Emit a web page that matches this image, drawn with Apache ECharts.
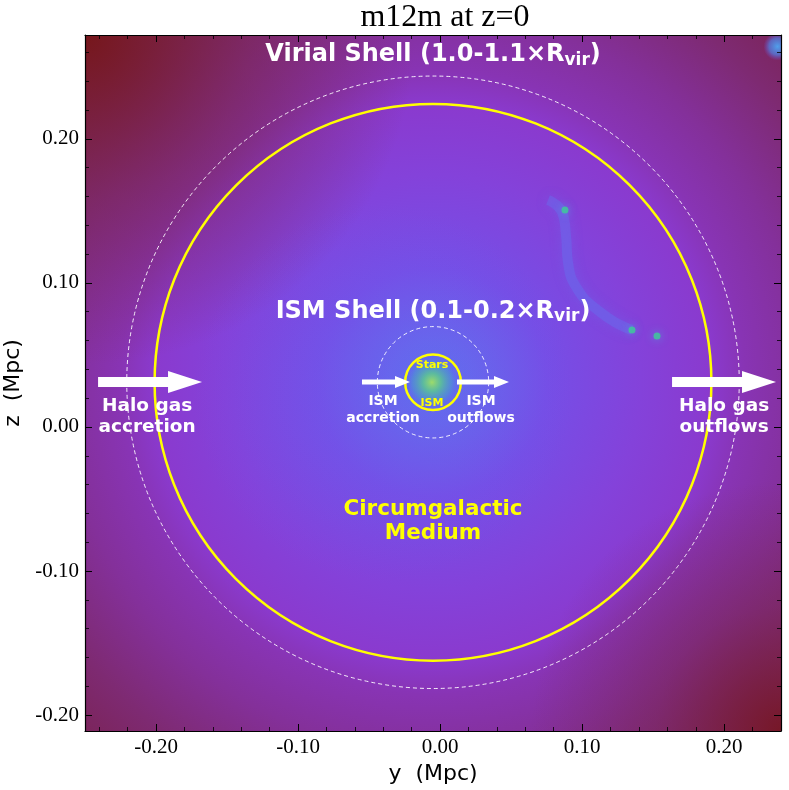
<!DOCTYPE html>
<html>
<head>
<meta charset="utf-8">
<script src="https://cdn.jsdelivr.net/npm/echarts@6/dist/echarts.min.js"></script>
<style>
  html, body { margin: 0; padding: 0; background: #fff; }
  #chart { width: 789px; height: 790px; }
</style>
</head>
<body>
<div id="chart"></div>
<script>
// axis extents and tick labels (Mpc)
var xRange = [-0.25, 0.24];
var yRange = [-0.211, 0.272];
var xTicks = [-0.2, -0.1, 0, 0.1, 0.2];
var yTicks = [-0.2, -0.1, 0, 0.1, 0.2];

// halo centre and virial radius
var haloCenter = [-0.005, 0.031];
var rvir = 0.196;
var solidShells = [1.0, 0.1];   // x Rvir, yellow
var dashedShells = [1.1, 0.2];  // x Rvir, white dashed

// flow arrows: [xStart, xEnd, y]
var haloArrows = [[-0.2408, -0.1676, 0.0312], [0.1633, 0.2365, 0.0312]];
var ismArrows = [[-0.055, -0.0212, 0.0312], [0.0119, 0.0485, 0.0312]];

// bright clumps and a filament in the gas map
var clumps = [[0.0879, 0.1506], [0.1351, 0.0673], [0.1527, 0.0631]];
var filament = [[0.076, 0.1575], [0.0858, 0.1492], [0.0886, 0.1332], [0.09, 0.1145],
  [0.0971, 0.095], [0.1126, 0.0798], [0.1267, 0.0708], [0.1351, 0.0673]];
var cornerBlob = [[0.2375, 0.264]];
var galaxy = [[-0.0057, 0.031]];

// annotations
var shellText = ['Virial Shell (1.0-1.1×R{sub|vir})', 'ISM Shell (0.1-0.2×R{sub|vir})'];
var shellPos = [[-0.005, 0.258], [-0.005, 0.0798]];
var haloText = ['Halo gas\naccretion', 'Halo gas\noutflows'];
var haloPos = [[-0.2063, 0.007], [0.1999, 0.007]];
var ismText = ['ISM\naccretion', 'ISM\noutflows'];
var ismPos = [[-0.0402, 0.0118], [0.0288, 0.0118]];
var galText = ['Stars', 'ISM'];
var galPos = [[-0.0057, 0.043], [-0.0057, 0.0166]];
var cgmText = ['Circumgalactic\nMedium'];
var cgmPos = [[-0.005, -0.0657]];

function minorTicks(lo, hi) {
  var out = [];
  for (var i = Math.ceil(lo / 0.02); i * 0.02 <= hi; i++) out.push(+(i * 0.02).toFixed(2));
  return out;
}

var chart = echarts.init(document.getElementById('chart'));

var serif = 'Liberation Serif';
var sans = 'DejaVu Sans';

function axis(pos, ticks, minor, range, withLabels, name) {
  var isX = pos === 'bottom' || pos === 'top';
  var major = {
    type: 'value', position: pos, min: range[0], max: range[1], z: 20,
    axisLine: { show: true, onZero: false, lineStyle: { color: '#000', width: 1.2 } },
    axisTick: { show: true, inside: true, length: 7, customValues: ticks, lineStyle: { color: '#000', width: 1 } },
    axisLabel: {
      show: withLabels, customValues: ticks, margin: 6,
      formatter: function (v) { return v.toFixed(2); },
      fontFamily: serif, fontSize: 21, color: '#000'
    },
    splitLine: { show: false }
  };
  if (name) {
    major.name = name;
    major.nameLocation = 'middle';
    major.nameGap = isX ? 30 : 52;
    major.nameTextStyle = { fontFamily: sans, fontSize: 22, color: '#000' };
  }
  var mn = {
    type: 'value', position: pos, min: range[0], max: range[1], z: 20,
    axisLine: { show: false, onZero: false },
    axisTick: { show: true, inside: true, length: 4, customValues: minor, lineStyle: { color: '#000', width: 0.8 } },
    axisLabel: { show: false },
    splitLine: { show: false }
  };
  return [major, mn];
}

var xMinor = minorTicks(xRange[0], xRange[1]);
var yMinor = minorTicks(yRange[0], yRange[1]);

var xAxes = axis('bottom', xTicks, xMinor, xRange, true, 'y  (Mpc)')
  .concat(axis('top', xTicks, xMinor, xRange, false));
var yAxes = axis('left', yTicks, yMinor, yRange, true, 'z  (Mpc)')
  .concat(axis('right', yTicks, yMinor, yRange, false));

function textSeries(texts, positions, style) {
  return {
    type: 'custom', xAxisIndex: 0, yAxisIndex: 0, clip: true, silent: true, z: 10,
    data: positions,
    renderItem: function (params, api) {
      var p = api.coord([api.value(0), api.value(1)]);
      return {
        type: 'text', x: p[0], y: p[1],
        style: Object.assign({
          text: texts[params.dataIndex], align: 'center', verticalAlign: 'middle',
          fontFamily: sans, fontWeight: 'bold'
        }, style)
      };
    }
  };
}

function circleSeries(mults, style) {
  return {
    type: 'custom', xAxisIndex: 0, yAxisIndex: 0, clip: true, silent: true, z: 5,
    data: mults.map(function (m) { return [haloCenter[0], haloCenter[1], m * rvir]; }),
    renderItem: function (params, api) {
      var c = api.coord([api.value(0), api.value(1)]);
      var r = api.size([api.value(2), 0])[0];
      return { type: 'circle', shape: { cx: c[0], cy: c[1], r: r }, style: Object.assign({ fill: null }, style) };
    }
  };
}

function arrowSeries(data, h, H, L) {
  return {
    type: 'custom', xAxisIndex: 0, yAxisIndex: 0, clip: true, silent: true, z: 8,
    data: data,
    renderItem: function (params, api) {
      var a = api.coord([api.value(0), api.value(2)]);
      var b = api.coord([api.value(1), api.value(2)]);
      var y = a[1], s = b[0] - L;
      return {
        type: 'polygon',
        shape: { points: [[a[0], y - h], [s, y - h], [s, y - H], [b[0], y], [s, y + H], [s, y + h], [a[0], y + h]] },
        style: { fill: '#fff' }
      };
    }
  };
}

function blobSeries(data, r, stops, z) {
  return {
    type: 'custom', xAxisIndex: 0, yAxisIndex: 0, clip: true, silent: true, z: z,
    data: data,
    renderItem: function (params, api) {
      var c = api.coord([api.value(0), api.value(1)]);
      return {
        type: 'circle', shape: { cx: c[0], cy: c[1], r: r },
        style: { fill: { type: 'radial', x: 0.5, y: 0.5, r: 0.5, colorStops: stops } }
      };
    }
  };
}

var option = {
  backgroundColor: '#fff',
  animation: false,
  title: {
    text: 'm12m at z=0', left: 440, top: -3, textAlign: 'center',
    textStyle: { fontFamily: serif, fontSize: 32, fontWeight: 'normal', color: '#000' }
  },
  grid: { left: 85, top: 35, width: 696, height: 696, show: false, containLabel: false, outerBoundsMode: 'none' },
  xAxis: xAxes,
  yAxis: yAxes,
  series: [
    // gas map background
    {
      type: 'custom', xAxisIndex: 0, yAxisIndex: 0, clip: true, silent: true, z: 1,
      data: [haloCenter],
      renderItem: function (params, api) {
        var cs = params.coordSys;
        var c = api.coord([api.value(0), api.value(1)]);
        var full = { x: cs.x, y: cs.y, width: cs.width, height: cs.height };
        return {
          type: 'group',
          children: [
            {
              type: 'rect', shape: full,
              style: {
                fill: {
                  type: 'radial', x: c[0], y: c[1], r: 520, global: true,
                  colorStops: [
                    { offset: 0, color: '#5e70ee' },
                    { offset: 0.08, color: '#6866ec' },
                    { offset: 0.22, color: '#764ee6' },
                    { offset: 0.4, color: '#8442da' },
                    { offset: 0.535, color: '#8a3ace' },
                    { offset: 0.6, color: '#8834b4' },
                    { offset: 0.71, color: '#84309a' },
                    { offset: 0.85, color: '#7e2a72' },
                    { offset: 1, color: '#7a2250' }
                  ]
                }
              }
            },
            {
              type: 'rect', shape: full,
              style: {
                fill: {
                  type: 'radial', x: cs.x, y: cs.y, r: 330, global: true,
                  colorStops: [
                    { offset: 0, color: 'rgba(118,22,24,0.95)' },
                    { offset: 0.5, color: 'rgba(120,34,60,0.5)' },
                    { offset: 1, color: 'rgba(120,34,60,0)' }
                  ]
                }
              }
            },
            {
              type: 'rect', shape: full,
              style: {
                fill: {
                  type: 'radial', x: cs.x + cs.width, y: cs.y + cs.height, r: 250, global: true,
                  colorStops: [
                    { offset: 0, color: 'rgba(118,22,34,0.9)' },
                    { offset: 0.5, color: 'rgba(120,34,70,0.4)' },
                    { offset: 1, color: 'rgba(120,34,70,0)' }
                  ]
                }
              }
            },
            {
              type: 'circle', shape: { cx: c[0] - 50, cy: c[1] + 10, r: 190 },
              style: {
                fill: {
                  type: 'radial', x: 0.5, y: 0.5, r: 0.5,
                  colorStops: [
                    { offset: 0, color: 'rgba(100,100,238,0.3)' },
                    { offset: 1, color: 'rgba(100,100,238,0)' }
                  ]
                }
              }
            }
          ]
        };
      }
    },
    // filament
    {
      type: 'line', xAxisIndex: 0, yAxisIndex: 0, data: filament, symbol: 'none', smooth: true, silent: true, z: 2,
      lineStyle: { color: 'rgba(100,115,240,0.4)', width: 10, shadowBlur: 12, shadowColor: 'rgba(100,115,240,0.7)' }
    },
    {
      type: 'scatter', xAxisIndex: 0, yAxisIndex: 0, data: clumps, symbolSize: 7, silent: true, z: 3,
      itemStyle: { color: '#3ccf96', shadowBlur: 8, shadowColor: '#4fa0e0' }
    },
    blobSeries(cornerBlob, 14, [
      { offset: 0, color: 'rgba(80,160,235,1)' },
      { offset: 0.6, color: 'rgba(80,130,230,0.7)' },
      { offset: 1, color: 'rgba(110,90,220,0)' }
    ], 3),
    // galaxy
    blobSeries(galaxy, 26, [
      { offset: 0, color: 'rgba(160,225,100,0.95)' },
      { offset: 0.35, color: 'rgba(90,205,140,0.8)' },
      { offset: 0.75, color: 'rgba(70,165,195,0.45)' },
      { offset: 1, color: 'rgba(80,120,230,0)' }
    ], 3),
    circleSeries(solidShells, { stroke: '#ffff00', lineWidth: 2.5 }),
    circleSeries(dashedShells, { stroke: 'rgba(255,255,255,0.9)', lineWidth: 1, lineDash: [4, 3] }),
    arrowSeries(haloArrows, 5, 11, 34),
    arrowSeries(ismArrows, 2.5, 6, 15),
    textSeries(shellText, shellPos, {
      fill: '#fff', fontSize: 24,
      rich: { sub: { fontFamily: sans, fontWeight: 'bold', fontSize: 17, fill: '#fff', padding: [10, 0, 0, 0] } }
    }),
    textSeries(haloText, haloPos, { fill: '#fff', fontSize: 18.5, lineHeight: 21 }),
    textSeries(ismText, ismPos, { fill: '#fff', fontSize: 14, lineHeight: 17 }),
    textSeries(galText, galPos, { fill: '#ffff00', fontSize: 11 }),
    textSeries(cgmText, cgmPos, { fill: '#ffff00', fontSize: 21.5, lineHeight: 24 })
  ]
};

chart.setOption(option);
</script>
</body>
</html>
